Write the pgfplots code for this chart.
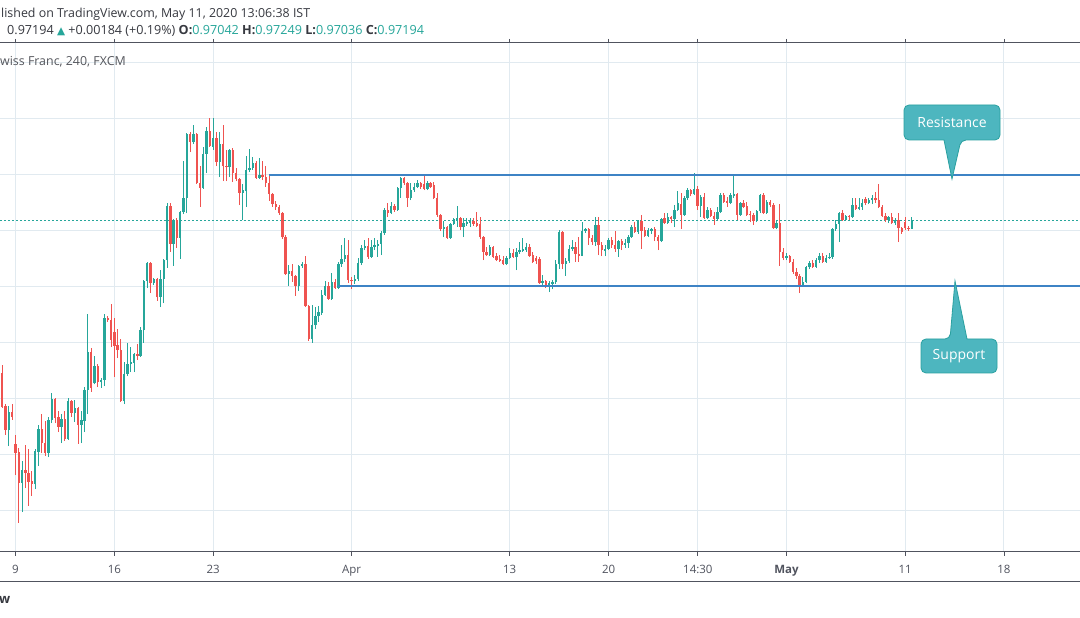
\documentclass[border=0pt]{standalone}
\usepackage{pgfplots}
\pgfplotsset{compat=1.18}
\usepackage{pgfplotstable}
\usepackage{fontspec}
\setmainfont{Open Sans}
\newfontfamily\dejavu{DejaVu Sans}
\definecolor{up}{RGB}{38,166,154}
\definecolor{down}{RGB}{239,83,80}
\definecolor{gridc}{RGB}{225,234,240}
\definecolor{lvl}{RGB}{62,131,197}
\definecolor{txt}{RGB}{55,57,64}
\definecolor{axc}{RGB}{80,83,94}
\definecolor{callfill}{RGB}{77,182,191}
\definecolor{calldraw}{RGB}{42,160,160}

\pgfplotstableread{
i O H L C
0 0.9446 0.9461 0.9384 0.9386
1 0.9388 0.9391 0.9336 0.9345
2 0.9345 0.9388 0.9316 0.9377
3 0.9377 0.9391 0.9363 0.9368
4 0.9320 0.9336 0.9264 0.9304
5 0.9305 0.9313 0.9179 0.9250
6 0.9250 0.9289 0.9198 0.9273
7 0.9273 0.9318 0.9241 0.9268
8 0.9268 0.9311 0.9209 0.9252
9 0.9254 0.9271 0.9227 0.9248
10 0.9248 0.9311 0.9239 0.9307
11 0.9305 0.9354 0.9280 0.9346
12 0.9346 0.9373 0.9304 0.9321
13 0.9321 0.9361 0.9298 0.9304
14 0.9304 0.9368 0.9296 0.9362
15 0.9362 0.9411 0.9357 0.9400
16 0.9400 0.9402 0.9357 0.9366
17 0.9368 0.9379 0.9341 0.9350
18 0.9350 0.9373 0.9321 0.9364
19 0.9364 0.9379 0.9325 0.9329
20 0.9329 0.9402 0.9327 0.9396
21 0.9396 0.9398 0.9368 0.9375
22 0.9375 0.9398 0.9359 0.9384
23 0.9384 0.9386 0.9320 0.9354
24 0.9354 0.9379 0.9321 0.9362
25 0.9361 0.9421 0.9341 0.9416
26 0.9416 0.9552 0.9373 0.9484
27 0.9484 0.9491 0.9413 0.9420
28 0.9428 0.9477 0.9426 0.9459
29 0.9459 0.9463 0.9421 0.9430
30 0.9430 0.9438 0.9420 0.9434
31 0.9434 0.9552 0.9423 0.9545
32 0.9545 0.9548 0.9538 0.9541
33 0.9541 0.9570 0.9493 0.9505
34 0.9520 0.9545 0.9439 0.9495
35 0.9497 0.9525 0.9473 0.9488
36 0.9488 0.9507 0.9395 0.9396
37 0.9396 0.9466 0.9391 0.9445
38 0.9445 0.9500 0.9441 0.9463
39 0.9463 0.9493 0.9448 0.9466
40 0.9464 0.9482 0.9448 0.9480
41 0.9480 0.9498 0.9470 0.9477
42 0.9477 0.9529 0.9475 0.9523
43 0.9523 0.9613 0.9500 0.9611
44 0.9611 0.9645 0.9598 0.9643
45 0.9643 0.9645 0.9589 0.9607
46 0.9607 0.9616 0.9604 0.9614
47 0.9614 0.9616 0.9575 0.9582
48 0.9582 0.9630 0.9564 0.9614
49 0.9614 0.9650 0.9571 0.9648
50 0.9648 0.9750 0.9634 0.9745
51 0.9745 0.9750 0.9663 0.9677
52 0.9677 0.9722 0.9638 0.9720
53 0.9720 0.9723 0.9670 0.9688
54 0.9688 0.9736 0.9650 0.9734
55 0.9734 0.9825 0.9730 0.9759
56 0.9759 0.9875 0.9732 0.9873
57 0.9873 0.9877 0.9841 0.9859
58 0.9859 0.9889 0.9855 0.9873
59 0.9873 0.9875 0.9784 0.9786
60 0.9786 0.9816 0.9743 0.9777
61 0.9777 0.9850 0.9775 0.9838
62 0.9838 0.9886 0.9804 0.9879
63 0.9879 0.9902 0.9850 0.9852
64 0.9850 0.9902 0.9845 0.9866
65 0.9866 0.9877 0.9816 0.9823
66 0.9823 0.9877 0.9796 0.9855
67 0.9855 0.9889 0.9789 0.9816
68 0.9816 0.9845 0.9789 0.9814
69 0.9814 0.9846 0.9796 0.9845
70 0.9845 0.9848 0.9788 0.9804
71 0.9804 0.9813 0.9789 0.9793
72 0.9793 0.9795 0.9746 0.9768
73 0.9768 0.9784 0.9720 0.9773
74 0.9771 0.9834 0.9743 0.9809
75 0.9809 0.9846 0.9805 0.9813
76 0.9813 0.9832 0.9809 0.9821
77 0.9821 0.9825 0.9793 0.9795
78 0.9795 0.9830 0.9793 0.9800
79 0.9800 0.9825 0.9791 0.9796
80 0.9796 0.9816 0.9779 0.9786
81 0.9786 0.9798 0.9754 0.9766
82 0.9766 0.9768 0.9743 0.9748
83 0.9748 0.9754 0.9738 0.9743
84 0.9743 0.9747 0.9729 0.9732
85 0.9732 0.9734 0.9686 0.9689
86 0.9689 0.9693 0.9621 0.9623
87 0.9623 0.9639 0.9602 0.9629
88 0.9629 0.9641 0.9609 0.9620
89 0.9620 0.9622 0.9584 0.9602
90 0.9602 0.9639 0.9593 0.9638
91 0.9638 0.9645 0.9634 0.9641
92 0.9641 0.9655 0.9564 0.9566
93 0.9566 0.9568 0.9504 0.9507
94 0.9507 0.9568 0.9500 0.9532
95 0.9532 0.9564 0.9525 0.9548
96 0.9548 0.9566 0.9538 0.9555
97 0.9554 0.9595 0.9550 0.9586
98 0.9586 0.9611 0.9584 0.9602
99 0.9602 0.9609 0.9577 0.9579
100 0.9579 0.9625 0.9577 0.9609
101 0.9609 0.9614 0.9596 0.9598
102 0.9598 0.9645 0.9596 0.9641
103 0.9641 0.9675 0.9636 0.9650
104 0.9650 0.9688 0.9645 0.9657
105 0.9657 0.9684 0.9607 0.9613
106 0.9613 0.9618 0.9596 0.9610
107 0.9610 0.9621 0.9605 0.9614
108 0.9614 0.9652 0.9611 0.9643
109 0.9643 0.9675 0.9639 0.9670
110 0.9670 0.9684 0.9666 0.9673
111 0.9673 0.9688 0.9650 0.9654
112 0.9654 0.9684 0.9652 0.9671
113 0.9671 0.9688 0.9666 0.9675
114 0.9673 0.9684 0.9654 0.9677
115 0.9677 0.9700 0.9657 0.9696
116 0.9696 0.9741 0.9693 0.9738
117 0.9738 0.9750 0.9725 0.9732
118 0.9732 0.9752 0.9730 0.9745
119 0.9745 0.9748 0.9734 0.9738
120 0.9738 0.9779 0.9736 0.9777
121 0.9777 0.9797 0.9759 0.9795
122 0.9795 0.9797 0.9782 0.9786
123 0.9786 0.9788 0.9743 0.9759
124 0.9759 0.9786 0.9755 0.9773
125 0.9773 0.9786 0.9770 0.9779
126 0.9779 0.9791 0.9777 0.9786
127 0.9786 0.9788 0.9775 0.9779
128 0.9784 0.9798 0.9773 0.9775
129 0.9775 0.9789 0.9773 0.9786
130 0.9786 0.9788 0.9777 0.9779
131 0.9783 0.9788 0.9757 0.9759
132 0.9759 0.9768 0.9725 0.9729
133 0.9729 0.9731 0.9700 0.9704
134 0.9704 0.9718 0.9689 0.9707
135 0.9707 0.9709 0.9686 0.9688
136 0.9688 0.9714 0.9686 0.9713
137 0.9713 0.9723 0.9711 0.9721
138 0.9720 0.9745 0.9707 0.9723
139 0.9723 0.9725 0.9702 0.9707
140 0.9707 0.9723 0.9689 0.9714
141 0.9713 0.9723 0.9709 0.9716
142 0.9714 0.9723 0.9707 0.9718
143 0.9718 0.9723 0.9709 0.9713
144 0.9714 0.9734 0.9707 0.9709
145 0.9712 0.9725 0.9686 0.9689
146 0.9689 0.9691 0.9648 0.9663
147 0.9663 0.9671 0.9655 0.9657
148 0.9657 0.9675 0.9655 0.9671
149 0.9671 0.9673 0.9652 0.9654
150 0.9655 0.9661 0.9646 0.9648
151 0.9650 0.9657 0.9645 0.9646
152 0.9648 0.9655 0.9639 0.9641
153 0.9641 0.9655 0.9639 0.9652
154 0.9652 0.9670 0.9650 0.9661
155 0.9661 0.9668 0.9652 0.9654
156 0.9654 0.9670 0.9630 0.9663
157 0.9663 0.9680 0.9659 0.9666
158 0.9665 0.9688 0.9663 0.9668
159 0.9666 0.9679 0.9663 0.9671
160 0.9671 0.9677 0.9654 0.9655
161 0.9657 0.9663 0.9643 0.9645
162 0.9652 0.9655 0.9641 0.9646
163 0.9650 0.9654 0.9605 0.9607
164 0.9607 0.9621 0.9600 0.9611
165 0.9611 0.9613 0.9598 0.9600
166 0.9600 0.9611 0.9591 0.9607
167 0.9605 0.9613 0.9596 0.9609
168 0.9609 0.9648 0.9605 0.9641
169 0.9641 0.9702 0.9632 0.9698
170 0.9698 0.9700 0.9632 0.9641
171 0.9641 0.9652 0.9620 0.9646
172 0.9646 0.9675 0.9643 0.9668
173 0.9668 0.9684 0.9664 0.9671
174 0.9671 0.9680 0.9645 0.9659
175 0.9659 0.9689 0.9645 0.9656
176 0.9656 0.9716 0.9655 0.9700
177 0.9700 0.9706 0.9697 0.9704
178 0.9704 0.9706 0.9675 0.9688
179 0.9688 0.9693 0.9675 0.9680
180 0.9680 0.9725 0.9673 0.9711
181 0.9711 0.9725 0.9657 0.9675
182 0.9675 0.9680 0.9655 0.9666
183 0.9664 0.9675 0.9655 0.9668
184 0.9668 0.9688 0.9666 0.9684
185 0.9684 0.9689 0.9670 0.9675
186 0.9675 0.9700 0.9663 0.9668
187 0.9668 0.9684 0.9654 0.9682
188 0.9682 0.9686 0.9666 0.9675
189 0.9675 0.9686 0.9670 0.9679
190 0.9679 0.9693 0.9670 0.9689
191 0.9689 0.9711 0.9688 0.9707
192 0.9707 0.9716 0.9696 0.9698
193 0.9698 0.9720 0.9695 0.9718
194 0.9718 0.9729 0.9668 0.9700
195 0.9702 0.9707 0.9689 0.9691
196 0.9691 0.9705 0.9689 0.9702
197 0.9700 0.9706 0.9695 0.9704
198 0.9704 0.9707 0.9682 0.9689
199 0.9689 0.9693 0.9666 0.9682
200 0.9682 0.9723 0.9680 0.9721
201 0.9723 0.9732 0.9713 0.9714
202 0.9714 0.9732 0.9713 0.9725
203 0.9725 0.9727 0.9714 0.9721
204 0.9721 0.9746 0.9707 0.9738
205 0.9738 0.9771 0.9736 0.9750
206 0.9748 0.9768 0.9704 0.9729
207 0.9729 0.9763 0.9727 0.9759
208 0.9759 0.9777 0.9755 0.9773
209 0.9773 0.9775 0.9762 0.9766
210 0.9766 0.9804 0.9764 0.9775
211 0.9775 0.9780 0.9738 0.9745
212 0.9745 0.9764 0.9725 0.9761
213 0.9761 0.9768 0.9721 0.9723
214 0.9723 0.9743 0.9721 0.9738
215 0.9738 0.9741 0.9725 0.9727
216 0.9727 0.9734 0.9711 0.9721
217 0.9721 0.9743 0.9718 0.9734
218 0.9734 0.9768 0.9732 0.9764
219 0.9764 0.9768 0.9750 0.9752
220 0.9753 0.9761 0.9743 0.9750
221 0.9750 0.9768 0.9748 0.9764
222 0.9762 0.9800 0.9759 0.9766
223 0.9766 0.9768 0.9720 0.9729
224 0.9729 0.9752 0.9727 0.9750
225 0.9750 0.9755 0.9741 0.9743
226 0.9744 0.9752 0.9727 0.9729
227 0.9731 0.9736 0.9716 0.9728
228 0.9728 0.9732 0.9711 0.9718
229 0.9718 0.9738 0.9716 0.9736
230 0.9736 0.9766 0.9732 0.9764
231 0.9764 0.9768 0.9730 0.9732
232 0.9732 0.9755 0.9730 0.9752
233 0.9752 0.9755 0.9743 0.9746
234 0.9746 0.9750 0.9704 0.9705
235 0.9705 0.9720 0.9703 0.9714
236 0.9714 0.9748 0.9638 0.9663
237 0.9663 0.9670 0.9648 0.9652
238 0.9652 0.9661 0.9648 0.9656
239 0.9656 0.9658 0.9643 0.9645
240 0.9645 0.9650 0.9623 0.9627
241 0.9627 0.9634 0.9614 0.9620
242 0.9620 0.9623 0.9589 0.9604
243 0.9604 0.9618 0.9600 0.9609
244 0.9609 0.9638 0.9607 0.9636
245 0.9636 0.9646 0.9632 0.9643
246 0.9643 0.9648 0.9634 0.9636
247 0.9636 0.9652 0.9634 0.9648
248 0.9648 0.9661 0.9643 0.9655
249 0.9655 0.9661 0.9643 0.9645
250 0.9645 0.9657 0.9643 0.9652
251 0.9652 0.9661 0.9650 0.9654
252 0.9654 0.9706 0.9650 0.9704
253 0.9704 0.9720 0.9700 0.9713
254 0.9713 0.9734 0.9680 0.9732
255 0.9732 0.9738 0.9718 0.9720
256 0.9720 0.9729 0.9718 0.9727
257 0.9727 0.9729 0.9720 0.9725
258 0.9725 0.9759 0.9723 0.9746
259 0.9746 0.9759 0.9738 0.9739
260 0.9739 0.9759 0.9737 0.9743
261 0.9743 0.9757 0.9738 0.9750
262 0.9757 0.9761 0.9746 0.9750
263 0.9750 0.9759 0.9748 0.9755
264 0.9755 0.9764 0.9748 0.9759
265 0.9759 0.9770 0.9750 0.9755
266 0.9755 0.9784 0.9741 0.9743
267 0.9743 0.9746 0.9725 0.9727
268 0.9727 0.9732 0.9716 0.9720
269 0.9720 0.9727 0.9714 0.9725
270 0.9725 0.9732 0.9713 0.9714
271 0.9714 0.9723 0.9711 0.9720
272 0.9720 0.9732 0.9680 0.9705
273 0.9705 0.9707 0.9695 0.9698
274 0.9716 0.9725 0.9702 0.9705
275 0.9705 0.9709 0.9700 0.9704
276 0.9704 0.9725 0.9704 0.9719
}\candles
\pgfplotstablegetrowsof{\candles}
\pgfmathtruncatemacro\lastrow{\pgfplotsretval-1}

\begin{document}
\begin{tikzpicture}[x=1pt,y=1pt]
\useasboundingbox (0,-66) rectangle (1080,552);
\fill[white] (0,-66) rectangle (1080,552);
\begin{axis}[
  at={(0,0)}, anchor=south west,
  scale only axis, width=1080pt, height=509pt,
  xmin=-0.698, xmax=327.07, ymin=0.912679, ymax=1.003571,
  axis line style={draw=none},
  xtick={4,34,64,106,154,184,211.1,238,274,304},
  xticklabels={9,16,23,Apr,13,20,14:30,\textbf{May},11,18},
  ytick={0.92,0.93,0.94,0.95,0.96,0.97,0.98,0.99,1.00},
  yticklabels={,,,,,,,,},
  ytick style={draw=none},
  xtick style={draw=axc, line width=0.8pt},
  tick align=outside, major tick length=4pt,
  grid=major, major grid style={draw=gridc, line width=1pt},
  xticklabel style={font=\fontsize{11.5}{13}\selectfont, text=axc, anchor=base},
  xticklabel shift=18pt,
  clip=true,
]
% current price line
\addplot[up, line width=1pt, dash pattern=on 2pt off 2pt, forget plot] coordinates {(-0.698,0.97194) (327.07,0.97194)};
% candles: one wick and one body per row of the table
\pgfplotsforeachungrouped \r in {0,...,\lastrow}{%
  \pgfplotstablegetelem{\r}{O}\of\candles \let\vO\pgfplotsretval
  \pgfplotstablegetelem{\r}{H}\of\candles \let\vH\pgfplotsretval
  \pgfplotstablegetelem{\r}{L}\of\candles \let\vL\pgfplotsretval
  \pgfplotstablegetelem{\r}{C}\of\candles \let\vC\pgfplotsretval
  \ifdim\vC pt<\vO pt
    \def\col{down}\let\vT\vO\let\vB\vC
  \else
    \def\col{up}\let\vT\vC\let\vB\vO
  \fi
  \ifdim\vT pt=\vB pt
    \pgfmathsetmacro\vT{\vT+0.00006}\pgfmathsetmacro\vB{\vB-0.00006}%
  \fi
  \edef\cmd{%
    \noexpand\addplot[\col, line width=1pt, line cap=butt, forget plot] coordinates {(\r,\vL) (\r,\vH)};%
    \noexpand\addplot[\col, line width=2.4pt, line cap=butt, forget plot] coordinates {(\r,\vB) (\r,\vT)};%
  }\cmd
}
% resistance and support
\addplot[lvl, line width=2pt, forget plot] coordinates {(81,0.9800) (327.07,0.9800)};
\addplot[lvl, line width=2pt, forget plot] coordinates {(102,0.9601) (327.07,0.9601)};
\end{axis}
% frame lines
\draw[axc, line width=1pt] (0,509) -- (1080,509);
\draw[axc, line width=1pt] (0,0) -- (1080,0);
\draw[axc, line width=1pt] (0,-30) -- (1080,-30);
% header
\node[anchor=base west, inner sep=0, text=txt, font=\fontsize{12.4}{14}\selectfont] at (1,534)
  {lished on TradingView.com, May 11, 2020 13:06:38 IST};
\node[anchor=base west, inner sep=0, text=txt, font=\fontsize{12.6}{14}\selectfont] at (7,517)
  {0.97194 {\dejavu\fontsize{10.5}{12}\selectfont\color{up}▲} +0.00184 (+0.19\%) \textbf{O:}\textcolor{up}{0.97042} \textbf{H:}\textcolor{up}{0.97249} \textbf{L:}\textcolor{up}{0.97036} \textbf{C:}\textcolor{up}{0.97194}};
\node[anchor=base west, inner sep=0, text=txt!85, font=\fontsize{12.4}{14}\selectfont] at (0,486)
  {wiss Franc, 240, FXCM};
% bottom logo fragment
\node[anchor=base west, inner sep=0, text=txt, font=\bfseries\fontsize{13}{14}\selectfont] at (-1,-52) {w};
% callouts
\draw[fill=callfill, draw=calldraw, line width=0.8pt, rounded corners=5pt]
  (904,430) |- (1000,447) |- (961,412) [sharp corners] -- (952,373) -- (944,412)
  [rounded corners=5pt] -| (904,430) -- cycle;
\node[text=white, font=\fontsize{14}{16}\selectfont] at (952,429.7) {Resistance};
\draw[fill=callfill, draw=calldraw, line width=0.8pt, rounded corners=5pt]
  (921,196) |- (950,213) [sharp corners] -- (955,271) -- (967,213)
  [rounded corners=5pt] -| (997,196) |- (921,179) -- cycle;
\node[text=white, font=\fontsize{14}{16}\selectfont] at (959,196.3) {Support};
\end{tikzpicture}
\end{document}
